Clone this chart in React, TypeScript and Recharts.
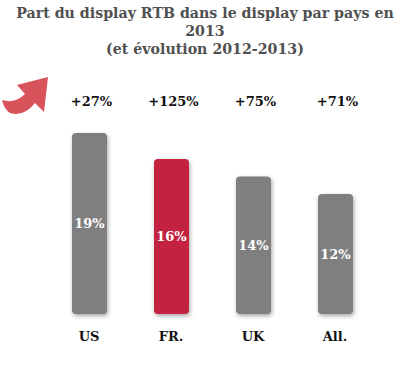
import React from 'react';
import { BarChart, Bar, XAxis, YAxis, Cell, LabelList } from 'recharts';

const countries = ['US', 'FR.', 'UK', 'All.'];
const shares = [19, 16, 14, 12];
const growth = ['+27%', '+125%', '+75%', '+71%'];
const barColors = ['#7f7f7f', '#c32240', '#7f7f7f', '#7f7f7f'];
const axisMin = -1.8;

const chartData = countries.map((c, i) => ({
  country: c,
  share: shares[i],
  growth: growth[i],
}));

const serif = '"DejaVu Serif", Georgia, serif';

const GrowthLabel = (props: any) => {
  const { x, width, value } = props;
  return (
    <text x={x + width / 2 + 2} y={106} textAnchor="middle" fontFamily={serif} fontWeight="bold" fontSize={13} fill="#111">
      {value}
    </text>
  );
};

const App: React.FC = () => {
  return (
    <div style={{ position: 'relative', width: 400, height: 369, background: '#fff' }}>
      <style>{`body{margin:0}`}</style>
      <div
        style={{
          position: 'absolute',
          left: 14,
          top: 4,
          width: 382,
          textAlign: 'center',
          fontFamily: serif,
          fontWeight: 'bold',
          fontSize: 14.2,
          lineHeight: '18px',
          color: '#505050',
          whiteSpace: 'nowrap',
        }}
      >
        Part du display RTB dans le display par pays en
        <br />
        2013
        <br />
        (et évolution 2012-2013)
      </div>
      <svg width={60} height={130} style={{ position: 'absolute', left: 0, top: 0 }}>
        <path
          d="M2,100 Q15,104 25,94 L17,85 L48,77 L44,112 L35,103 Q24,117 10,113 Q4,109 2,100 Z"
          fill="#d9535a"
        />
      </svg>
      <div style={{ position: 'absolute', left: 0, top: 0 }}>
        <BarChart width={400} height={369} data={chartData} margin={{ top: 133, right: 24, left: 48, bottom: 25 }}>
          <XAxis
            dataKey="country"
            axisLine={false}
            tickLine={false}
            height={30}
            tick={{ fontFamily: serif, fontWeight: 'bold', fontSize: 13, fill: '#111', dy: 10 }}
          />
          <YAxis hide domain={[axisMin, 19]} />
          <Bar dataKey={(d: any) => [axisMin, d.share]} barSize={35} radius={4} isAnimationActive={false}>
            {chartData.map((d, i) => (
              <Cell
                key={d.country}
                fill={barColors[i]}
                style={{ filter: 'drop-shadow(1px 2px 2px rgba(0,0,0,0.35))' }}
              />
            ))}
            <LabelList
              dataKey="share"
              position="center"
              formatter={(v: any) => `${v}%`}
              style={{ fontFamily: serif, fontWeight: 'bold', fontSize: 13, fill: '#fff' }}
            />
            <LabelList dataKey="growth" content={<GrowthLabel />} />
          </Bar>
        </BarChart>
      </div>
    </div>
  );
};

export default App;
